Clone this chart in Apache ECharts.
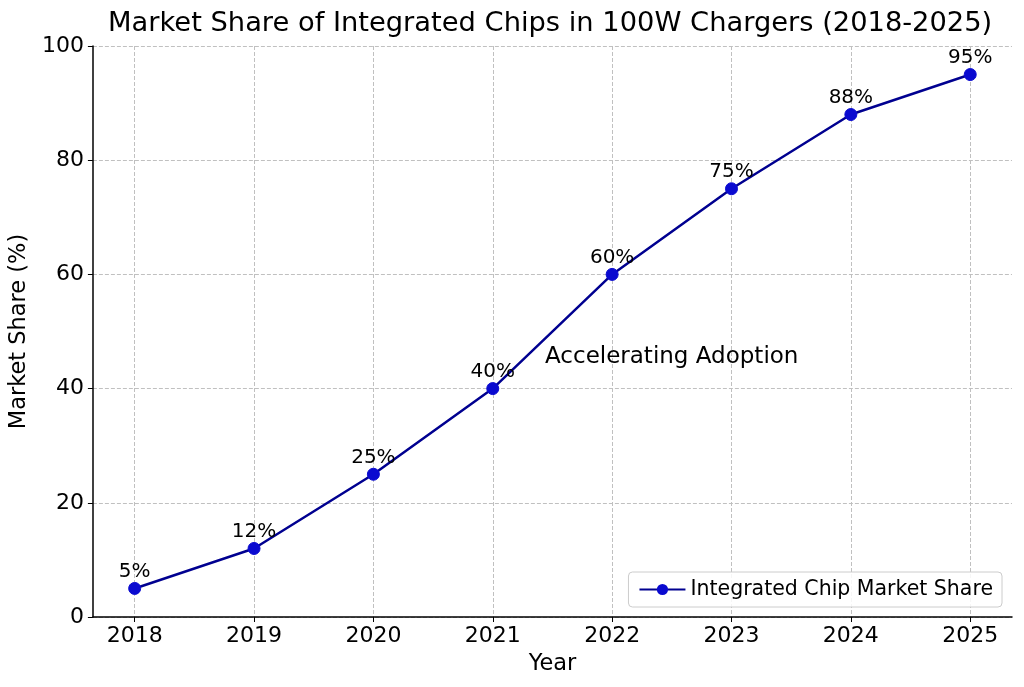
<!DOCTYPE html>
<html>
<head>
<meta charset="utf-8">
<script src="https://cdn.jsdelivr.net/npm/echarts@6/dist/echarts.min.js"></script>
<style>
    html, body { margin: 0; padding: 0; background: #fff; }
    #chart { width: 1024px; height: 687px; }
</style>
</head>
<body>
<div id="chart"></div>
<script>
// data
var years = [2018, 2019, 2020, 2021, 2022, 2023, 2024, 2025];
var share = [5, 12, 25, 40, 60, 75, 88, 95];
var seriesName = 'Integrated Chip Market Share';
var noteText = 'Accelerating Adoption';
var notePos = [2021.4, 42.8];

var font = 'DejaVu Sans';
var chart = echarts.init(document.getElementById('chart'), null, { renderer: 'canvas' });

var points = years.map(function (y, i) { return [y, share[i]]; });

var option = {
    backgroundColor: '#fff',
    animation: false,
    textStyle: { fontFamily: font },
    // title is centred over the plot area, not the page
    title: {
        text: 'Market Share of Integrated Chips in 100W Chargers (2018-2025)',
        left: 103,
        top: 8,
        padding: [2, 5],
        textStyle: { fontFamily: font, fontSize: 27.3, fontWeight: 'normal', color: '#000' }
    },
    grid: { left: 92, right: 12, top: 46, bottom: 70 },
    legend: {
        right: 22,
        bottom: 80,
        data: [seriesName],
        itemWidth: 46,
        itemHeight: 14,
        itemGap: 8,
        padding: [7, 9, 7, 10],
        borderColor: '#cccccc',
        borderWidth: 1,
        borderRadius: 4,
        backgroundColor: 'rgba(255,255,255,0.85)',
        selectedMode: false,
        textStyle: { fontFamily: font, fontSize: 20.5, color: '#000' }
    },
    xAxis: {
        type: 'value',
        min: 2017.65,
        max: 2025.35,
        name: 'Year',
        nameLocation: 'middle',
        nameGap: 36,
        nameTextStyle: { fontFamily: font, fontSize: 22.5, color: '#000' },
        axisLine: { show: true, onZero: false, lineStyle: { color: '#000', width: 1.5 } },
        axisTick: { show: true, length: 5, customValues: years, lineStyle: { color: '#000' } },
        axisLabel: {
            customValues: years,
            fontFamily: font, fontSize: 22, color: '#000', margin: 8,
            formatter: function (v) { return String(v); }
        },
        splitLine: { show: true, lineStyle: { color: '#c0c0c0', type: 'dashed', width: 1 } }
    },
    yAxis: {
        type: 'value',
        min: 0,
        max: 100,
        interval: 20,
        name: 'Market Share (%)',
        nameLocation: 'middle',
        nameGap: 58,
        nameTextStyle: { fontFamily: font, fontSize: 22.5, color: '#000' },
        axisLine: { show: true, lineStyle: { color: '#000', width: 1.5 } },
        axisTick: { show: true, length: 5, lineStyle: { color: '#000' } },
        axisLabel: { fontFamily: font, fontSize: 22, color: '#000', margin: 9 },
        splitLine: { show: true, lineStyle: { color: '#c0c0c0', type: 'dashed', width: 1 } }
    },
    series: [{
        name: seriesName,
        type: 'line',
        data: points,
        symbol: 'circle',
        symbolSize: 12,
        lineStyle: { color: '#000090', width: 2.5 },
        itemStyle: { color: '#0a0ad0', borderColor: '#0a0ad0' },
        label: {
            show: true,
            position: 'top',
            distance: 0,
            fontFamily: font,
            fontSize: 20,
            color: '#000',
            formatter: function (p) { return p.value[1] + '%'; }
        },
        markPoint: {
            symbol: 'circle',
            symbolSize: 1,
            itemStyle: { color: 'rgba(0,0,0,0)' },
            label: {
                show: true,
                position: 'insideBottomLeft',
                fontFamily: font,
                fontSize: 23,
                color: '#000',
                formatter: noteText
            },
            data: [{ coord: notePos }]
        }
    }]
};

chart.setOption(option);
</script>
</body>
</html>
